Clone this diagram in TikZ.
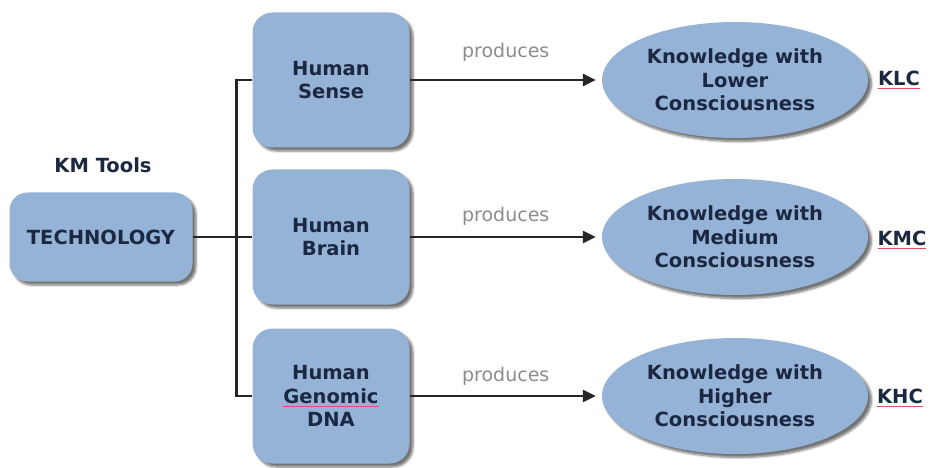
\documentclass[tikz,border=0pt]{standalone}
\usepackage{fontspec}
\setmainfont{DejaVu Sans}
\usetikzlibrary{shapes.geometric,arrows.meta,shadows.blur}
\definecolor{boxblue}{HTML}{95B3D7}
\definecolor{inkblue}{HTML}{1C2841}
\definecolor{spellred}{HTML}{E0505F}
\definecolor{labelgray}{HTML}{8C8C8C}
% red spell-check mark under a word
\newlength\spellw
\newcommand\spellmark[1]{\settowidth\spellw{#1}\rlap{\textcolor{spellred}{\rule[-3.5pt]{\spellw}{1pt}}}#1}
\begin{document}
\begin{tikzpicture}[x=1pt,y=-1pt,
  softshadow/.style={blur shadow={shadow xshift=3.5pt,shadow yshift=-3.5pt,shadow blur steps=6,shadow opacity=55}},
  boldtext/.style={text=inkblue,font=\bfseries\fontsize{19.5}{23.5}\selectfont,align=center},
  toolbox/.style={rectangle,rounded corners=20pt,fill=boxblue,softshadow,boldtext,inner sep=0pt,
    minimum width=157pt,minimum height=135pt},
  knowledge/.style={ellipse,fill=boxblue,softshadow,boldtext,inner sep=0pt,
    minimum width=266pt,minimum height=116pt},
  tag/.style={boldtext},
  verb/.style={text=labelgray,font=\fontsize{19}{20}\selectfont},
  link/.style={line width=2.8pt,black!85},
  flow/.style={link,-{Triangle[length=13pt,width=12pt]},shorten >=6pt}
]
\useasboundingbox (0,0) rectangle (930,468);

% source
\node[tag] (kmtools) at (103,165) {KM Tools};
\node[toolbox,minimum width=183pt,minimum height=89pt,rounded corners=18pt] (tech) at (101,237) {TECHNOLOGY};

% carriers
\node[toolbox] (sense) at (331,80) {Human\\Sense};
\node[toolbox] (brain) at (331,237) {Human\\Brain};
\node[toolbox] (dna) at (331,396) {Human\\\spellmark{Genomic}\\DNA};

% knowledge levels
\node[knowledge] (klow) at (735,80) {Knowledge with\\Lower\\Consciousness};
\node[knowledge] (kmed) at (735,237) {Knowledge with\\Medium\\Consciousness};
\node[knowledge] (khigh) at (735,396) {Knowledge with\\Higher\\Consciousness};

\node[tag] (klc) at (899,80) {\spellmark{KLC}};
\node[tag] (kmc) at (902,240) {\spellmark{KMC}};
\node[tag] (khc) at (900,398) {\spellmark{KHC}};

% branching connectors
\draw[link] (tech.east) -- (brain.west);
\draw[link] (sense.west) -- ++(-16,0) coordinate (trunk) |- (dna.west);

% produces arrows
\draw[flow] (sense.east) -- node[verb,above=14pt] (p1) {produces} (klow.west);
\draw[flow] (brain.east) -- node[verb,above=7pt] (p2) {produces} (kmed.west);
\draw[flow] (dna.east) -- node[verb,above=6pt] (p3) {produces} (khigh.west);
\end{tikzpicture}
\end{document}
